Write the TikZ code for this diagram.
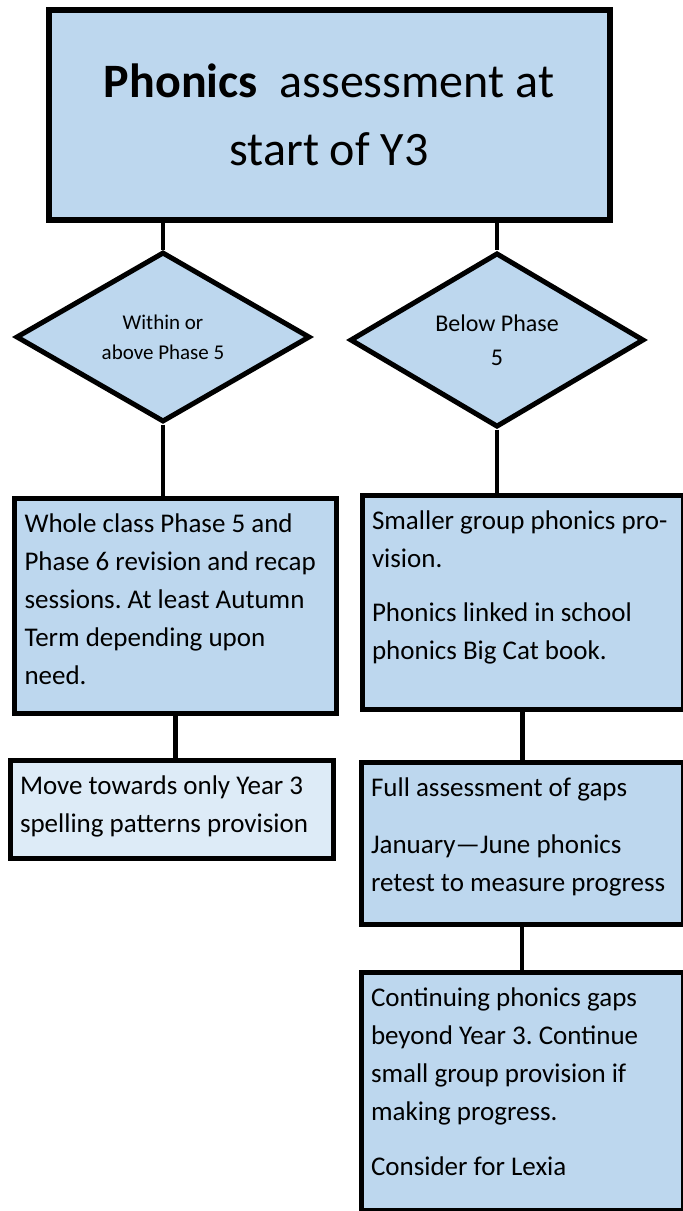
\documentclass[tikz,border=0pt]{standalone}
\usepackage{fontspec}
\setmainfont{Carlito}
\usetikzlibrary{shapes.geometric}

\definecolor{boxblue}{HTML}{BDD7EE}
\definecolor{paleblue}{HTML}{DDEBF7}
\newcommand{\firstline}{\rule{0pt}{34pt}}
\frenchspacing

\begin{document}
\begin{tikzpicture}[x=1pt, y=-1pt,
    stagebox/.style 2 args={draw, line width=5pt, fill=boxblue, anchor=north west,
        inner xsep=10pt, inner ysep=0pt, font=\fontsize{27}{38}\selectfont,
        execute at begin node={\begin{minipage}[t][#2][t]{#1}\raggedright\firstline},
        execute at end node={\end{minipage}}},
    choice/.style={diamond, draw, line width=5pt, fill=boxblue, inner sep=0pt,
        minimum width=294pt, minimum height=170pt, align=center},
    link/.style={line width=4.5pt}]
    \useasboundingbox (0,0) rectangle (683,1211);

    % Start
    \node[draw, line width=6pt, fill=boxblue, minimum width=561pt, minimum height=210pt,
        align=center, font=\fontsize{48}{68}\selectfont] (head) at (329,115)
        {\textbf{Phonics}\ \ assessment at\\start of Y3};

    % Decisions
    \node[choice, font=\fontsize{21}{30}\selectfont] (within) at (163,337) {Within or\\above Phase 5};
    \node[choice, font=\fontsize{24}{34}\selectfont] (below) at (497,340) {Below Phase\\5};

    % Left branch
    \node[stagebox={302pt}{214.5pt}] (whole) at (12,496)
        {Whole class Phase 5 and\\Phase 6 revision and recap\\sessions. At least Autumn\\Term depending upon\\need.};
    \node[stagebox={303.5pt}{98pt}, fill=paleblue] (move) at (7.5,757.5)
        {Move towards only Year 3\\spelling patterns provision};

    % Right branch
    \node[stagebox={301pt}{214pt}] (small) at (359.5,492.5)
        {Smaller group phonics pro-\\vision.\\[16pt]Phonics linked in school\\phonics Big Cat book.};
    \node[stagebox={302pt}{162pt}] (full) at (358.5,759.5)
        {Full assessment of gaps\\[19pt]January—June phonics\\retest to measure progress};
    \node[stagebox={302pt}{238pt}] (continuing) at (358.5,970)
        {Continuing phonics gaps\\beyond Year 3. Continue\\small group provision if\\making progress.\\[17pt]Consider for Lexia};

    % Connectors
    \draw[link] (within.north |- head.south) -- (within.north);
    \draw[link] (below.north |- head.south) -- (below.north);
    \draw[link] (within.south) -- (within.south |- whole.north);
    \draw[link] (below.south) -- (below.south |- small.north);
    \draw[link] (whole.south) -- (whole.south |- move.north);
    \draw[link] (small.south) -- (small.south |- full.north);
    \draw[link] (full.south) -- (continuing.north);
\end{tikzpicture}
\end{document}
